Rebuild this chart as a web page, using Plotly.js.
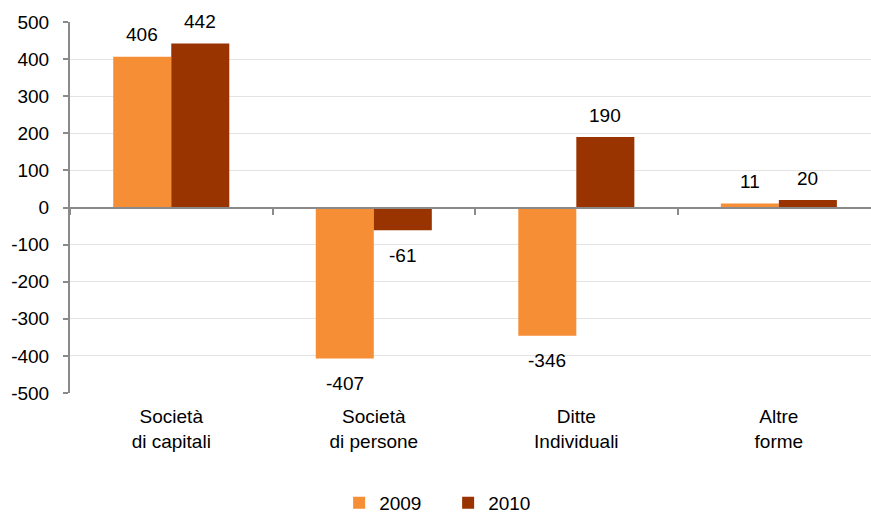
<!DOCTYPE html>
<html><head><meta charset="utf-8">
<script src="https://cdn.plot.ly/plotly-3.0.1.min.js"></script>
<style>html,body{margin:0;padding:0;background:#fff}</style>
</head><body>
<div id="chart" style="width:871px;height:515px"></div>
<script>
const categories = ["Società<br>di capitali", "Società<br>di persone", "Ditte<br>Individuali", "Altre<br>forme"];
const series2009 = [406, -407, -346, 11];
const series2010 = [442, -61, 190, 20];
const yTicks = [-500, -400, -300, -200, -100, 0, 100, 200, 300, 400, 500];

const font = {family: "Arial, 'Liberation Sans', sans-serif", size: 19, color: "#000"};
const traces = [
  {type: "bar", name: "2009", x: categories, y: series2009, marker: {color: "#F58E34"}, hoverinfo: "skip"},
  {type: "bar", name: "2010", x: categories, y: series2010, marker: {color: "#993300"}, hoverinfo: "skip"},
  {type: "scatter", mode: "markers", x: categories, y: categories.map(() => null),
   xaxis: "x2", showlegend: false, hoverinfo: "skip"}
];
function labels(vals, xshift) {
  return vals.map((v, i) => ({
    x: categories[i], y: v, xref: "x", yref: "y", text: String(v), showarrow: false,
    xshift: xshift, yshift: v >= 0 ? 22 : -25, yanchor: "middle", font: font
  }));
}
const xr = [-0.5, 3.455];
const layout = {
  width: 871, height: 515,
  margin: {l: 70, r: 0, t: 22, b: 122, autoexpand: false},
  paper_bgcolor: "#fff", plot_bgcolor: "#fff",
  font: font,
  barmode: "group", bargap: 0.427, bargroupgap: 0,
  showlegend: true,
  legend: {orientation: "h", x: 0.336, xanchor: "left", y: -0.245, yanchor: "top",
           font: font, itemwidth: 30, entrywidth: 64, traceorder: "normal"},
  annotations: labels(series2009, -29).concat(labels(series2010, 29)),
  xaxis: {type: "category", range: xr, showgrid: false, showline: false, zeroline: false,
          ticks: "", tickfont: font, ticklabelstandoff: 10, automargin: false},
  xaxis2: {type: "category", range: xr, overlaying: "x", anchor: "free", position: 0.5,
           showline: true, linecolor: "#8a8a8a", linewidth: 2, showgrid: false, zeroline: false,
           ticks: "outside", tickson: "boundaries", ticklen: 6, tickwidth: 2, tickcolor: "#8a8a8a",
           showticklabels: false, automargin: false},
  yaxis: {range: [-500, 500], tickvals: yTicks, ticktext: yTicks.map(String),
          showgrid: true, gridcolor: "#e3e3e3", gridwidth: 1, zeroline: false,
          showline: true, linecolor: "#8a8a8a", linewidth: 2,
          ticks: "outside", ticklen: 5, tickwidth: 2, tickcolor: "#8a8a8a",
          tickfont: font, ticklabelstandoff: 10, automargin: false}
};
Plotly.newPlot("chart", traces, layout, {staticPlot: true, displayModeBar: false});
</script>
</body></html>
